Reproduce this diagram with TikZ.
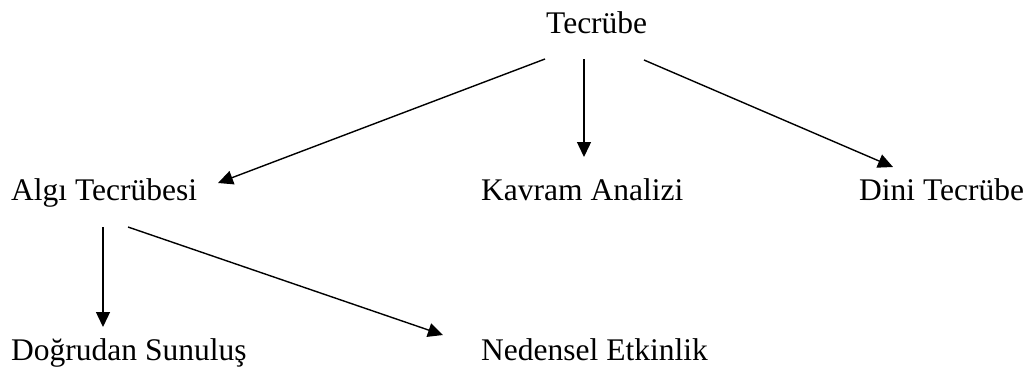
\documentclass[tikz,border=0pt]{standalone}
\usepackage{fontspec}
\setmainfont{Liberation Serif}
\usetikzlibrary{arrows.meta}
\begin{document}
\begin{tikzpicture}[x=1pt,y=-1pt,
  lbl/.style={anchor=base west,inner sep=0pt,font=\fontsize{31.5}{37}\selectfont},
  conn/.style={line width=1.4pt,-{Triangle[length=15pt,width=14pt]}}]
\useasboundingbox (0,0) rectangle (1029,373);
\node[lbl] (T) at (546,33) {Tecrübe};
\node[lbl] (A) at (11,200) {Algı Tecrübesi};
\node[lbl] (K) at (481,200) {Kavram Analizi};
\node[lbl] (D) at (859,200) {Dini Tecrübe};
\node[lbl] (DS) at (11,360) {Doğrudan Sunuluş};
\node[lbl] (N) at (481,360) {Nedensel Etkinlik};
\draw[conn] ([shift={(-1,26)}]T.base west) -- ([shift={(207,-17)}]A.base west);
\draw[conn] ([shift={(38,26)}]T.base west) -- ([shift={(103,-43)}]K.base west);
\draw[conn] ([shift={(98,27)}]T.base west) -- ([shift={(34,-33)}]D.base west);
\draw[conn] ([shift={(92,27)}]A.base west) -- ([shift={(92,-33)}]DS.base west);
\draw[conn] ([shift={(117,27)}]A.base west) -- ([shift={(-38,-25)}]N.base west);
\end{tikzpicture}
\end{document}
